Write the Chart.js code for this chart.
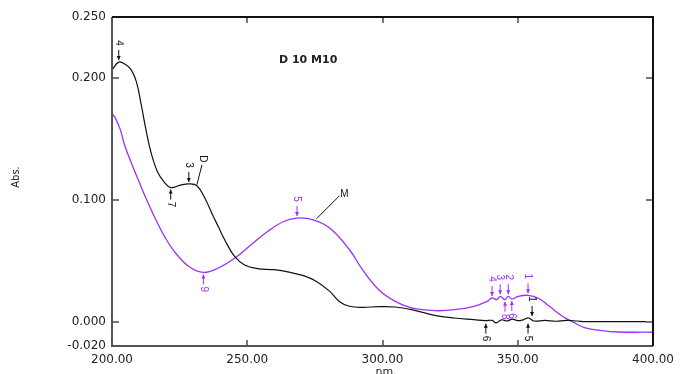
<!DOCTYPE html>
<html>
<head>
<meta charset="utf-8">
<script src="https://cdn.jsdelivr.net/npm/chart.js@4/dist/chart.umd.min.js"></script>
<style>
html,body{margin:0;padding:0;background:#fff;}
canvas{display:block;}
</style>
</head>
<body>
<canvas id="c" width="681" height="374"></canvas>
<script>
// ---- data ----
const dNm  = [200,202.5,205,207,209,210.8,212.6,214.4,216.8,219.3,221.7,225.3,228.4,231.4,234.4,237.5,239.3,241.7,245.3,249,253.8,259.9,265.9,270.8,275.6,280.4,284,287.8,292.6,298.6,304.7,310.8,319.3,326.5,333.8,338,340.5,342,344,346,348,350,352,354,356,360,364,368,372,375,400];
const dAbs = [0.2066,0.213,0.211,0.207,0.197,0.178,0.157,0.139,0.123,0.1145,0.110,0.112,0.113,0.1115,0.101,0.086,0.078,0.067,0.0535,0.0465,0.0435,0.0426,0.0404,0.0377,0.033,0.025,0.0166,0.0126,0.0117,0.0123,0.012,0.0098,0.0052,0.003,0.0016,0.0008,0.001,-0.001,0.0015,0.0005,0.002,0.0008,0.0015,0.003,0.0005,0.001,0.0003,0.001,0.0005,0.0,0.0];
const mNm  = [200,201,203,204.7,207.2,210.2,212.6,216.2,219.9,223.5,228.4,233.8,239.3,245.3,251.4,257.5,263.5,268.4,274.4,280.5,287.8,292.6,298.7,304.7,310.8,319.3,326.5,333.8,338.7,340.5,342.3,343.5,345.3,346.5,347.8,350.2,353.8,357.5,361.7,366.5,370.2,375,381.1,387.2,400];
const mAbs = [0.1705,0.168,0.158,0.1445,0.130,0.1137,0.101,0.0836,0.068,0.0563,0.0453,0.0404,0.044,0.052,0.063,0.074,0.0822,0.085,0.0836,0.0768,0.059,0.0426,0.026,0.0166,0.0112,0.009,0.0098,0.0126,0.0166,0.0194,0.018,0.0208,0.018,0.0208,0.0186,0.0208,0.0216,0.0194,0.0126,0.0044,0.0,-0.0052,-0.0074,-0.0085,-0.0087];

const xTicks = [200,250,300,350,400];
const yTicks = [-0.02,0,0.1,0.2,0.25];

// peak picks
const pickSeries = ['D','D','D','D','D','D','M','M','M','M','M','M','M','M'];
const pickNm     = [202.5,228.4,221.7,355.3,338.2,353.8,268.4,233.8,340.5,343.5,346.5,353.8,345.3,347.8];
const pickAbs    = [0.213,0.113,0.110,0.003,0.0,0.0,0.085,0.0404,0.0194,0.0208,0.0208,0.0216,0.018,0.0186];
const pickLabel  = ['4','3','7','1','6','5','5','9','4','3','2','1','8','6'];
const pickDir    = ['down','down','up','down','up','up','down','up','down','down','down','down','up','up'];

const seriesName = ['D','M'];
const seriesAnchorNm  = [231.4,275.6];
const seriesAnchorAbs = [0.1115,0.0836];

const title = 'D 10 M10';
const yTitle = 'Abs.';
const xTitle = 'nm.';

const colD = '#111111';
const colM = '#9b30ff';

function pts(xs, ys){ return xs.map((x,i)=>({x:x, y:ys[i]})); }

const framePlugin = {
  id:'frame',
  afterDatasetsDraw(chart){
    const ctx = chart.ctx, a = chart.chartArea;
    const xs = chart.scales.x, ys = chart.scales.y;
    ctx.save();
    // ticks inside
    ctx.strokeStyle = '#777'; ctx.lineWidth = 2;
    ctx.beginPath();
    yTicks.forEach(v=>{
      if (v<=-0.02 || v>=0.25) return;
      const y = Math.round(ys.getPixelForValue(v));
      ctx.moveTo(a.left, y); ctx.lineTo(a.left+7, y);
      ctx.moveTo(a.right, y); ctx.lineTo(a.right-7, y);
    });
    xTicks.forEach(v=>{
      if (v<=200 || v>=400) return;
      const x = Math.round(xs.getPixelForValue(v));
      ctx.moveTo(x, a.bottom); ctx.lineTo(x, a.bottom-6);
      ctx.moveTo(x, a.top); ctx.lineTo(x, a.top+6);
    });
    ctx.stroke();
    // frame
    ctx.lineWidth = 2;
    ctx.strokeStyle = '#555';
    ctx.beginPath();
    ctx.moveTo(a.left, a.top); ctx.lineTo(a.left, a.bottom); ctx.lineTo(a.right, a.bottom);
    ctx.stroke();
    ctx.strokeStyle = '#111';
    ctx.beginPath();
    ctx.moveTo(a.left, a.top); ctx.lineTo(a.right, a.top); ctx.lineTo(a.right, a.bottom);
    ctx.stroke();

    // peak picks
    pickNm.forEach((nm,i)=>{
      const col = pickSeries[i]==='D' ? colD : colM;
      const x = xs.getPixelForValue(nm);
      const y = ys.getPixelForValue(pickAbs[i]);
      const s = pickDir[i]==='down' ? -1 : 1;
      ctx.strokeStyle = col; ctx.fillStyle = col; ctx.lineWidth = 1;
      const yEnd = y + s*2, yStart = y + s*12;
      ctx.beginPath(); ctx.moveTo(x, yStart); ctx.lineTo(x, yEnd); ctx.stroke();
      ctx.beginPath();
      ctx.moveTo(x, yEnd); ctx.lineTo(x-2, yEnd + s*4); ctx.lineTo(x+2, yEnd + s*4); ctx.closePath(); ctx.fill();
      ctx.save();
      ctx.translate(x, y + s*(s<0?19:17));
      ctx.rotate(Math.PI/2);
      ctx.font = '10px "Liberation Sans", Arial, sans-serif';
      ctx.textAlign = 'center'; ctx.textBaseline = 'middle';
      ctx.fillText(pickLabel[i], 0, 0);
      ctx.restore();
    });

    // series leader labels
    const leadDx = [5, 23], leadDy = [-21, -24];
    seriesName.forEach((n,i)=>{
      const x = xs.getPixelForValue(seriesAnchorNm[i]);
      const y = ys.getPixelForValue(seriesAnchorAbs[i]);
      ctx.strokeStyle = colD; ctx.fillStyle = colD; ctx.lineWidth = 1;
      ctx.beginPath(); ctx.moveTo(x, y-1); ctx.lineTo(x+leadDx[i], y+leadDy[i]); ctx.stroke();
      ctx.save();
      ctx.font = '10px "Liberation Sans", Arial, sans-serif';
      ctx.textAlign = 'center'; ctx.textBaseline = 'middle';
      if (i===0) {
        ctx.translate(x+leadDx[i]+1, y+leadDy[i]-6);
        ctx.rotate(Math.PI/2);
        ctx.fillText(n, 0, 0);
      } else {
        ctx.fillText(n, x+leadDx[i]+5, y+leadDy[i]-2);
      }
      ctx.restore();
    });

    // texts
    ctx.fillStyle = '#222';
    ctx.font = 'bold 11px "DejaVu Sans", sans-serif';
    ctx.textAlign = 'center'; ctx.textBaseline = 'middle';
    ctx.fillText(title, xs.getPixelForValue(272.5), ys.getPixelForValue(0.215));
    ctx.font = '10px "DejaVu Sans", sans-serif';
    ctx.save();
    ctx.translate(16, 177);
    ctx.rotate(-Math.PI/2);
    ctx.fillText(yTitle, 0, 0);
    ctx.restore();
    ctx.font = '11px "DejaVu Sans", sans-serif';
    ctx.fillText(xTitle, 386, 372);
    ctx.restore();
  }
};

new Chart(document.getElementById('c'), {
  type:'line',
  data:{
    datasets:[
      {label:'D', data:pts(dNm,dAbs), borderColor:colD, borderWidth:1.2, pointRadius:0, tension:0.4, fill:false},
      {label:'M', data:pts(mNm,mAbs), borderColor:colM, borderWidth:1.3, pointRadius:0, tension:0.4, fill:false}
    ]
  },
  options:{
    responsive:false,
    animation:false,
    devicePixelRatio:1,
    layout:{padding:{left:0, top:17, right:19, bottom:0}},
    plugins:{legend:{display:false}, tooltip:{enabled:false}},
    scales:{
      x:{
        type:'linear', min:200, max:400,
        afterBuildTicks:s=>{ s.ticks = xTicks.map(v=>({value:v})); },
        afterFit:s=>{ s.height = 28; },
        grid:{display:false, drawTicks:false},
        border:{display:false},
        ticks:{padding:7, maxRotation:0, autoSkip:false, color:'#222', font:{family:'"DejaVu Sans", sans-serif', size:12}, callback:v=>Number(v).toFixed(2)}
      },
      y:{
        type:'linear', min:-0.02, max:0.25,
        afterBuildTicks:s=>{ s.ticks = yTicks.map(v=>({value:v})); },
        afterFit:s=>{ s.width = 112; },
        grid:{display:false, drawTicks:false},
        border:{display:false},
        ticks:{padding:6, autoSkip:false, color:'#222', font:{family:'"DejaVu Sans", sans-serif', size:12}, callback:v=>Number(v).toFixed(3)}
      }
    }
  },
  plugins:[framePlugin]
});
</script>
</body>
</html>
